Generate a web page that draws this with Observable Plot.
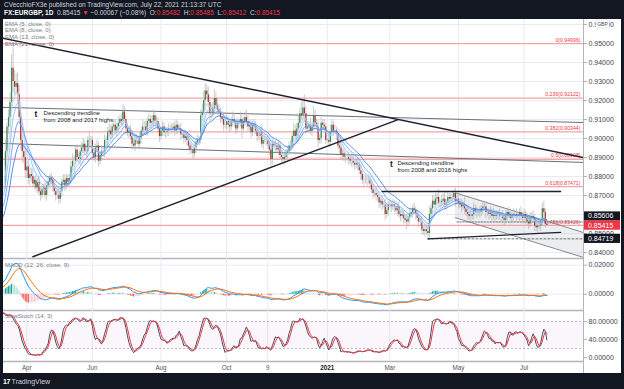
<!DOCTYPE html>
<html><head><meta charset="utf-8">
<script src="https://cdn.jsdelivr.net/npm/d3@7"></script>
<script src="https://cdn.jsdelivr.net/npm/@observablehq/plot@0.6"></script>
<style>
html,body{margin:0;padding:0;background:#131722;}
#root{position:relative;width:624px;height:389px;overflow:hidden;background:#131722;font-family:"Liberation Sans",Arial,sans-serif;}
#sheet{position:absolute;left:3px;top:19px;width:618px;height:354px;background:#fff;}
.pl{position:absolute;left:3px;}
.hdr{position:absolute;left:4px;font-size:6.5px;color:#d1d4dc;white-space:nowrap;line-height:7px;}
.leg{position:absolute;left:5px;font-size:6px;color:#787b86;white-space:nowrap;line-height:7px;}
.red{color:#f23645;}
</style></head><body>
<div id="root">
<div class="hdr" style="top:1px">CVecchioFX3e published on TradingView.com, July 22, 2021 21:13:37 UTC</div>
<div class="hdr" style="top:8.5px"><b style="color:#fff">FX:EURGBP, 1D</b>&nbsp; 0.85415 <span class="red">▼</span> −0.00067 (−0.08%)&nbsp; O:<span class="red">0.85482</span>&nbsp; H:<span class="red">0.85485</span>&nbsp; L:<span class="red">0.85412</span>&nbsp; C:<span class="red">0.85415</span></div>
<div id="sheet"></div>
</div>
<script>
// ---------------- DATA ----------------
const startDate = "2020-03-12"; // first visible daily bar
// warm-up closes (Jan 13 - Mar 11 2020), pips x1e-4, used only for indicators
const warmCloses = [
 8560,8550,8530,8500,8490, 8500,8470,8440,8440,8450, 8470,8490,8470,8440,8410,
 8470,8480,8490,8480,8470, 8460,8460,8350,8340,8320, 8330,8310,8340,8350,8370,
 8390,8420,8470,8550,8630, 8660,8700,8660,8700,8760, 8770,8790,8760];
// daily closes Mar 12 2020 - Jul 22 2021 (pips)
const closes = [
 8930,9060,
 9110,9190,9370,9300,9270, 9290,9230,9110,8990,8930, 8900,8830,8850,8790,8810, 8800,8760,8780,8740,8770,
 8720,8700,8730,8740,8700, 8750,8770,8790,8780,8750, 8720,8700,8700,8680,8720, 8770,8780,8750,8790,8770,
 8790,8850,8880,8880,8940, 8900,8890,8930,8950,8970, 8930,8930,8990,8990,8990, 8920,8900,8950,8960,8880,
 8910,8930,8930,8990,8990, 9030,9040,9020,9060,9070, 9040,9060,9080,9100,9090, 9140,9100,9050,9030,9040,
 9010,8970,8960,8990,8990, 8970,9000,9040,9060,9060, 9040,9090,9100,9080,9090, 9120,9090,9090,9050,9010,
 9040,9060,9030,9030,9040, 9050,9050,9050,9060,9040, 9070,9050,9050,9020,9020, 9000,9010,8990,8960,8940,
 8940,8920,8950,8980,8990, 8990,9120,9140,9200,9250, 9230,9190,9130,9130,9160, 9210,9170,9150,9140,9110,
 9100,9070,9070,9090,9070, 9060,9090,9100,9080,9050, 9080,9080,9100,9050,9090, 9110,9090,9060,9070,9030,
 9070,9060,9040,9010,9010, 9030,8970,8990,8990,8990, 8970,8940,8890,8970,8960, 8960,8940,8960,8910,8900,
 8890,8900,8920,8930,8960, 8960,9010,9040,9010,9050, 9080,9130,9120,9160,9130, 9050,9060,9070,9040,9060,
 9120,9080,9060,8990,9000, 9080,9070,9060,8990,8990,
 8980,9030,9070,9040,9040, 9020,8960,8950,8910,8920, 8900,8900,8900,8890,8880, 8880,8870,8860,8870,8860,
 8830,8810,8780,8780,8780, 8780,8780,8760,8730,8710, 8710,8700,8690,8660,8670, 8650,8650,8600,8620,8650,
 8650,8640,8650,8640,8620, 8640,8600,8590,8600,8580, 8570,8560,8580,8600,8610, 8630,8620,8600,8580,8560,
 8560,8520,8510,8520,8510, 8500,8600,8630,8670,8650, 8680,8690,8660,8660,8670, 8680,8650,8660,8690,8680,
 8690,8690,8710,8670,8680, 8660,8650,8640,8650,8630, 8610,8600,8590,8590,8600, 8630,8610,8610,8610,8610,
 8630,8640,8640,8610,8610, 8600,8610,8590,8600,8590, 8600,8600,8590,8590,8580, 8570,8590,8610,8600,8580,
 8590,8600,8600,8590,8590, 8610,8590,8580,8600,8580, 8560,8550,8580,8590,8580, 8540,8530,8540,8540,8560,
 8630,8610,8548,8542];
// upper / lower wick beyond the body (pips)
const wickUp = [
 60,20,
 40,50,70,129,60, 50,60,50,80,40, 40,50,30,40,30, 30,40,20,30,20,
 30,20,30,20,30, 20,30,20,30,20, 30,20,30,40,20, 20,30,30,20,20,
 20,30,40,30,20, 30,20,20,30,30, 20,30,20,50,20, 20,30,20,30,20,
 20,30,20,30,20, 30,40,30,20,30, 30,20,30,20,30, 40,30,20,30,20,
 30,20,30,20,30, 20,30,20,40,30, 30,20,30,20,30, 30,20,30,20,30,
 20,30,20,30,20, 30,20,30,20,30, 30,20,20,30,20, 20,30,20,30,20,
 30,20,30,20,30, 20,30,40,50,40, 30,40,30,50,30, 50,30,40,30,20,
 30,20,30,40,20, 30,20,40,30,20, 30,20,40,30,20, 30,40,30,20,30,
 20,30,30,20,30, 30,40,20,30,20, 30,20,40,30,20, 30,20,30,20,30,
 20,30,20,30,20, 30,20,40,30,30, 40,30,60,40,70, 40,30,20,40,30,
 50,30,20,40,20, 30,20,30,20,10,
 30,40,30,20,30, 20,30,20,30,20, 20,30,20,30,20, 20,30,20,20,30,
 20,30,20,20,30, 20,30,20,20,30, 20,30,20,30,20, 30,20,30,40,20,
 30,20,30,20,30, 20,30,20,30,20, 20,30,20,30,20, 20,30,20,20,30,
 20,30,20,30,20, 30,40,20,30,30, 30,20,40,20,30, 30,40,20,30,20,
 20,30,20,30,20, 30,20,30,20,40, 20,30,20,30,20, 30,20,30,20,30,
 20,30,20,30,20, 20,30,20,30,20, 20,20,30,20,30, 20,30,20,30,20,
 20,30,20,30,20, 20,30,20,30,20, 30,20,30,20,30, 20,30,20,30,20,
 30,40,20,1];
const wickDn = [
 30,30,
 40,50,40,60,50, 40,50,40,50,60, 30,40,40,30,40, 30,20,30,20,30,
 20,30,20,30,20, 30,20,30,20,30, 20,30,20,30,20, 30,20,30,20,30,
 20,30,20,30,20, 30,20,30,20,30, 20,30,20,30,20, 30,20,30,20,30,
 20,30,20,30,20, 30,20,30,20,30, 20,30,20,30,20, 30,20,30,20,30,
 20,30,20,30,20, 30,20,30,20,30, 20,30,20,30,20, 30,20,30,20,30,
 20,30,20,30,20, 30,20,30,20,30, 20,30,20,30,20, 30,20,30,20,30,
 20,30,20,30,20, 30,20,30,20,30, 20,30,40,30,20, 30,20,30,20,30,
 20,30,20,30,20, 30,20,30,20,30, 20,30,20,50,20, 30,20,30,20,30,
 20,30,20,30,20, 30,20,30,20,30, 20,30,40,30,20, 30,20,30,20,30,
 20,30,20,30,20, 30,20,30,20,30, 20,30,20,30,40, 30,20,30,20,30,
 20,30,20,40,20, 30,20,30,20,10,
 20,30,20,30,20, 30,20,30,20,30, 20,30,20,30,20, 30,20,30,20,30,
 20,30,20,30,20, 30,20,30,20,30, 20,30,20,30,20, 30,20,30,20,30,
 20,30,20,30,20, 30,20,30,20,30, 20,40,20,30,20, 30,20,30,20,30,
 20,30,20,30,20, 28,30,20,30,20, 20,30,20,30,20, 30,20,30,20,30,
 20,30,20,30,20, 30,20,30,20,30, 20,30,20,30,20, 30,20,30,20,30,
 20,30,20,30,20, 30,20,30,20,30, 20,30,20,30,20, 30,20,30,20,30,
 20,30,20,30,20, 30,20,30,20,30, 20,30,20,30,20, 30,20,30,20,30,
 20,30,20,1];

const tickDates  = ["2020-04-01","2020-06-01","2020-08-03","2020-10-01","2020-11-09","2021-01-01","2021-03-01","2021-05-03","2021-07-01"];
const tickLabels = ["Apr","Jun","Aug","Oct","9","2021","Mar","May","Jul"];
const yearLabels = ["2021"];

const emaLengths = [5, 8, 13, 21];
const emaColors  = ["#b9d4fa", "#93bdf7", "#6aa3f2", "#3d82ea"];

const fibRatios = ["0", "0.236", "0.382", "0.5", "0.618", "0.786"];
const fibPrices = [0.94996, 0.92122, 0.90344, 0.88908, 0.87471, 0.85426];

const trendDesc    = [["2020-03-10", 0.9528], ["2021-08-25", 0.8900]];
const trend2017    = [["2020-03-10", 0.9164], ["2021-08-25", 0.9084]];
const trend2016    = [["2020-03-10", 0.8974], ["2021-08-25", 0.8874]];
const trendAsc     = [["2020-04-07", 0.8378], ["2021-03-08", 0.9098]];
const aprilHigh    = [["2021-02-22", 0.8721], ["2021-08-04", 0.8721]];
const supportLine  = [["2021-04-05", 0.8472], ["2021-08-04", 0.8506]];
const channelUpper = [["2021-04-29", 0.8714], ["2021-08-25", 0.8505]];
const channelLower = [["2021-04-29", 0.8583], ["2021-08-25", 0.8374]];
const lowLevel     = [["2021-04-05", 0.84719], ["2021-08-25", 0.84719]];
const midLevel     = [["2021-04-30", 0.85606], ["2021-08-25", 0.85606]];

const notes = [
  {d: "2020-04-16", p: 0.9147, icon: "2020-04-09", text: "Descending trendline\nfrom 2008 and 2017 highs"},
  {d: "2021-03-08", p: 0.8884, icon: "2021-03-02", text: "Descending trendline\nfrom 2008 and 2016 highs"}
];
const priceBoxes = [
  {p: 0.85606, bg: "#131722", shift: -5.5},
  {p: 0.85415, bg: "#f23645", shift: 0},
  {p: 0.84719, bg: "#131722", shift: 0}
];
const priceTicks = [0.84,0.85,0.86,0.87,0.88,0.89,0.90,0.91,0.92,0.93,0.94,0.95,0.96];
// labels of the price axis that are not hidden behind the price boxes
const priceTickLabels = [0.84,0.85,0.87,0.88,0.89,0.90,0.91,0.92,0.93,0.94,0.95,0.96];
const macdTicks  = [0, 0.02];
const stochTicks = [0, 40, 80];

// ---------------- SCALES / HELPERS ----------------
const PIP = 1e4, DAY = 864e5;
const W = 618, MR = 38;
const xDomain = [-1.28, 379.0];
const priceDomain = [0.836842, 0.962632];
const macdDomain = [-0.01124, 0.02462];
const stochDomain = [-8.9, 104.4];

const monday0 = Date.UTC(1970, 0, 5);
function wd(s) {
  const days = Math.floor((Date.parse(s + "T00:00:00Z") - monday0) / DAY);
  const w = Math.floor(days / 7), r = days - w * 7;
  return w * 5 + Math.min(r, 5);
}
const base = wd(startDate);
const idxOf = s => wd(s) - base;
const seg = arr => arr.map(([d, p]) => ({i: idxOf(d), p}));

const nW = warmCloses.length;
const bars = closes.map((c, k) => {
  const o = k === 0 ? warmCloses[nW - 1] : closes[k - 1];
  return {i: k, o: o / PIP, c: c / PIP,
          h: (Math.max(o, c) + wickUp[k]) / PIP,
          l: (Math.min(o, c) - wickDn[k]) / PIP};
});
const allC = warmCloses.map(v => v / PIP).concat(bars.map(b => b.c));
const allH = warmCloses.map(v => v / PIP).concat(bars.map(b => b.h));
const allL = warmCloses.map(v => v / PIP).concat(bars.map(b => b.l));
const idxAll = j => j - nW;

function ema(arr, n) {
  const a = 2 / (n + 1); let e;
  return arr.map((v, j) => (e = j === 0 ? v : a * v + (1 - a) * e));
}
function sma(arr, n) {
  return arr.map((v, j) => d3.mean(arr.slice(Math.max(0, j - n + 1), j + 1)));
}
const keep = r => r.i >= -3;

const emaSeries = emaLengths.map(n => ema(allC, n).map((v, j) => ({i: idxAll(j), v})).filter(keep));

const e12 = ema(allC, 12), e26 = ema(allC, 26);
const macdLine = e12.map((v, j) => v - e26[j]);
const sigLine = ema(macdLine, 9);
const macdRows = macdLine.map((m, j) => {
  const h = m - sigLine[j], hp = j ? macdLine[j - 1] - sigLine[j - 1] : 0;
  const col = h >= 0 ? (h >= hp ? "#26a69a" : "#b2dfdb") : (h <= hp ? "#ff5252" : "#ffcdd2");
  return {i: idxAll(j), m, s: sigLine[j], h, col};
}).filter(keep);

const rawK = allC.map((c, j) => {
  const lo = d3.min(allL.slice(Math.max(0, j - 13), j + 1));
  const hi = d3.max(allH.slice(Math.max(0, j - 13), j + 1));
  return hi > lo ? 100 * (c - lo) / (hi - lo) : 50;
});
const kLine = sma(rawK, 3), dLine = sma(kLine, 3);
const stochRows = kLine.map((k, j) => ({i: idxAll(j), k, d: dLine[j]})).filter(keep);

const tickRows = tickDates.map((d, k) => ({i: idxOf(d), label: tickLabels[k]}));
const tickIdx = tickRows.map(t => t.i);
const fibRows = fibPrices.map((p, k) => ({p, label: `${fibRatios[k]}(${p.toFixed(5)})`}));
const chan = channelUpper.map(([d, hi], k) => ({i: idxOf(d), hi, lo: channelLower[k][1]}));

const FONT = "Liberation Sans, Arial, sans-serif";
const common = {width: W, marginLeft: 0, marginRight: MR, marginTop: 0,
  style: {background: "transparent", fontFamily: FONT, overflow: "visible"}};
const gridCol = "#e9ebf0";
const axisCol = "#b2b5be";
const tc = "#434651";
const rightAxis = ticks => Plot.axisY(ticks, {anchor: "right", tickSize: 3, tickPadding: 2,
  tickFormat: d => d.toFixed(5), fontSize: 7, color: tc, stroke: axisCol});
const tl = (s, o) => Plot.line(seg(s), {x: "i", y: "p", clip: true, ...o});

// ---------------- MAIN PRICE PANEL ----------------
const main = Plot.plot({...common, height: 239, marginBottom: 0,
  x: {domain: xDomain, axis: null}, y: {domain: priceDomain, axis: null},
  color: {type: "identity"},
  marks: [
    Plot.gridX(tickIdx, {stroke: gridCol, strokeOpacity: 1}),
    Plot.gridY(priceTicks, {stroke: gridCol, strokeOpacity: 1}),
    Plot.areaY(chan, {x: "i", y1: "lo", y2: "hi", fill: "#c3c6ce", fillOpacity: 0.3, clip: true}),
    Plot.ruleY(fibPrices, {stroke: "#f5a3a6", strokeWidth: 1.3}),
    Plot.text(fibRows, {x: xDomain[1], y: "p", text: "label", textAnchor: "end", dx: -3, dy: -3.5, fill: "#f23645", fontSize: 5.2}),
    tl(trend2017, {stroke: "#6b6e78", strokeWidth: 1}),
    tl(trend2016, {stroke: "#6b6e78", strokeWidth: 1}),
    tl(channelUpper, {stroke: "#787b86", strokeWidth: 0.9}),
    tl(channelLower, {stroke: "#787b86", strokeWidth: 0.9}),
    tl(lowLevel, {stroke: "#5d606b", strokeWidth: 0.9, strokeDasharray: "2,2"}),
    tl(midLevel, {stroke: "#5d606b", strokeWidth: 0.9, strokeDasharray: "1.5,1.5"}),
    Plot.ruleX(bars, {x: "i", y1: "l", y2: "h", stroke: "#b4b6bc", strokeWidth: 0.7, clip: true}),
    Plot.ruleX(bars, {x: "i", y1: "o", y2: d => d.c === d.o ? d.c + 0.00005 : d.c,
      stroke: d => d.c >= d.o ? "#3b8a4e" : "#a8352c", strokeWidth: 1.25, clip: true}),
    ...emaSeries.map((s, k) => Plot.line(s, {x: "i", y: "v", stroke: emaColors[k], strokeWidth: 0.9, clip: true})),
    tl(trendDesc, {stroke: "#1e222d", strokeWidth: 1.5}),
    tl(trendAsc, {stroke: "#1e222d", strokeWidth: 1.5}),
    tl(aprilHigh, {stroke: "#1e222d", strokeWidth: 1.3}),
    tl(supportLine, {stroke: "#1e222d", strokeWidth: 1.3}),
    Plot.text(notes, {x: d => idxOf(d.d), y: "p", text: "text", textAnchor: "start", lineAnchor: "top",
      fontSize: 6, fill: "#131722", lineHeight: 1.1}),
    Plot.text(notes, {x: d => idxOf(d.icon), y: "p", text: () => "t", dy: 4, fontSize: 8.5, fontWeight: "bold", fill: "#131722"}),
    Plot.ruleX([xDomain[1]], {stroke: axisCol}),
    Plot.axisY(priceTicks, {anchor: "right", tickSize: 3, tickFormat: () => "", stroke: axisCol}),
    rightAxis(priceTickLabels),
    Plot.ruleY([priceDomain[0]], {stroke: axisCol, strokeWidth: 1.6})
  ]});

// price label boxes on the right axis, positioned with the plot's own y scale
{
  const ys = main.scale("y");
  const svg = d3.select(main);
  for (const b of priceBoxes) {
    const yy = ys.apply(b.p) + b.shift;
    svg.append("rect").attr("x", W - MR + 1).attr("y", yy - 4.6).attr("width", 36).attr("height", 9.2).attr("fill", b.bg);
    svg.append("text").attr("x", W - MR + 5).attr("y", yy).attr("dy", "0.35em").attr("fill", "#fff")
      .attr("text-anchor", "start").attr("font-size", 7).attr("font-family", FONT).text(b.p.toFixed(5));
  }
  const gy = ys.apply(0.96);
  svg.append("rect").attr("x", W - MR + 13).attr("y", gy - 4).attr("width", 13).attr("height", 8).attr("rx", 1.5)
    .attr("fill", "#fff").attr("stroke", "#d1d4dc").attr("stroke-width", 0.6);
  svg.append("text").attr("x", W - MR + 19.5).attr("y", gy).attr("dy", "0.35em").attr("text-anchor", "middle")
    .attr("fill", tc).attr("font-size", 5).attr("font-family", FONT).text("GBP");
}

// ---------------- MACD PANEL ----------------
const macd = Plot.plot({...common, height: 52, marginBottom: 0,
  x: {domain: xDomain, axis: null}, y: {domain: macdDomain, axis: null},
  color: {type: "identity"},
  marks: [
    Plot.gridX(tickIdx, {stroke: gridCol, strokeOpacity: 1}),
    Plot.gridY(macdTicks, {stroke: gridCol, strokeOpacity: 1}),
    Plot.ruleX(macdRows, {x: "i", y1: 0, y2: "h", stroke: "col", strokeWidth: 1.1, clip: true}),
    Plot.line(macdRows, {x: "i", y: "m", stroke: "#2196f3", strokeWidth: 1, clip: true}),
    Plot.line(macdRows, {x: "i", y: "s", stroke: "#ff6d00", strokeWidth: 1, clip: true}),
    Plot.ruleX([xDomain[1]], {stroke: axisCol}),
    rightAxis(macdTicks),
    Plot.ruleY([macdDomain[0]], {stroke: axisCol, strokeWidth: 1.6})
  ]});

// ---------------- STOCH PANEL + TIME AXIS ----------------
const stochBottomExt = stochDomain[0] - 12 / (51 / (stochDomain[1] - stochDomain[0]));
const stoch = Plot.plot({...common, height: 63, marginBottom: 12,
  x: {domain: xDomain, axis: null}, y: {domain: stochDomain, axis: null},
  marks: [
    Plot.gridX(tickIdx, {stroke: gridCol, strokeOpacity: 1}),
    Plot.rect([0], {x1: xDomain[0], x2: xDomain[1], y1: 20, y2: 80, fill: "#9c27b0", fillOpacity: 0.045}),
    Plot.ruleY([20, 80], {stroke: "#a3a6af", strokeWidth: 0.8, strokeDasharray: "2,2"}),
    Plot.line(stochRows, {x: "i", y: "k", stroke: "#4a4d57", strokeWidth: 1, clip: true}),
    Plot.line(stochRows, {x: "i", y: "d", stroke: "#f23645", strokeWidth: 1, clip: true}),
    Plot.ruleX([xDomain[1]], {y1: stochDomain[1], y2: stochBottomExt, stroke: axisCol}),
    rightAxis(stochTicks),
    Plot.ruleY([stochDomain[0]], {stroke: axisCol, strokeWidth: 1.6}),
    Plot.text(tickRows.filter(t => !yearLabels.includes(t.label)), {x: "i", y: stochDomain[0], text: "label", dy: 6.5, fontSize: 6.3, fill: "#50535e"}),
    Plot.text(tickRows.filter(t => yearLabels.includes(t.label)), {x: "i", y: stochDomain[0], text: "label", dy: 6.5, fontSize: 6.3, fontWeight: "bold", fill: "#131722"})
  ]});

const root = document.getElementById("root");
[[main, 19], [macd, 258], [stoch, 310]].forEach(([el, top]) => {
  el.classList.add("pl"); el.style.top = top + "px"; el.style.position = "absolute"; el.style.left = "3px";
  root.appendChild(el);
});

// legends
const leg = (txt, top) => { const d = document.createElement("div"); d.className = "leg"; d.style.top = top + "px"; d.textContent = txt; root.appendChild(d); };
emaLengths.forEach((n, k) => leg(`EMA (${n}, close, 0)`, 20.5 + k * 6.8));
leg("MACD (12, 26, close, 9)", 261.5);
leg("SlowStoch (14, 3)", 312.5);
const foot = document.createElement("div");
foot.className = "hdr"; foot.style.top = "378px"; foot.style.left = "3px"; foot.style.fontSize = "7px";
foot.innerHTML = '<b style="color:#fff;letter-spacing:-0.5px">17</b> TradingView';
root.appendChild(foot);
</script>
</body></html>
